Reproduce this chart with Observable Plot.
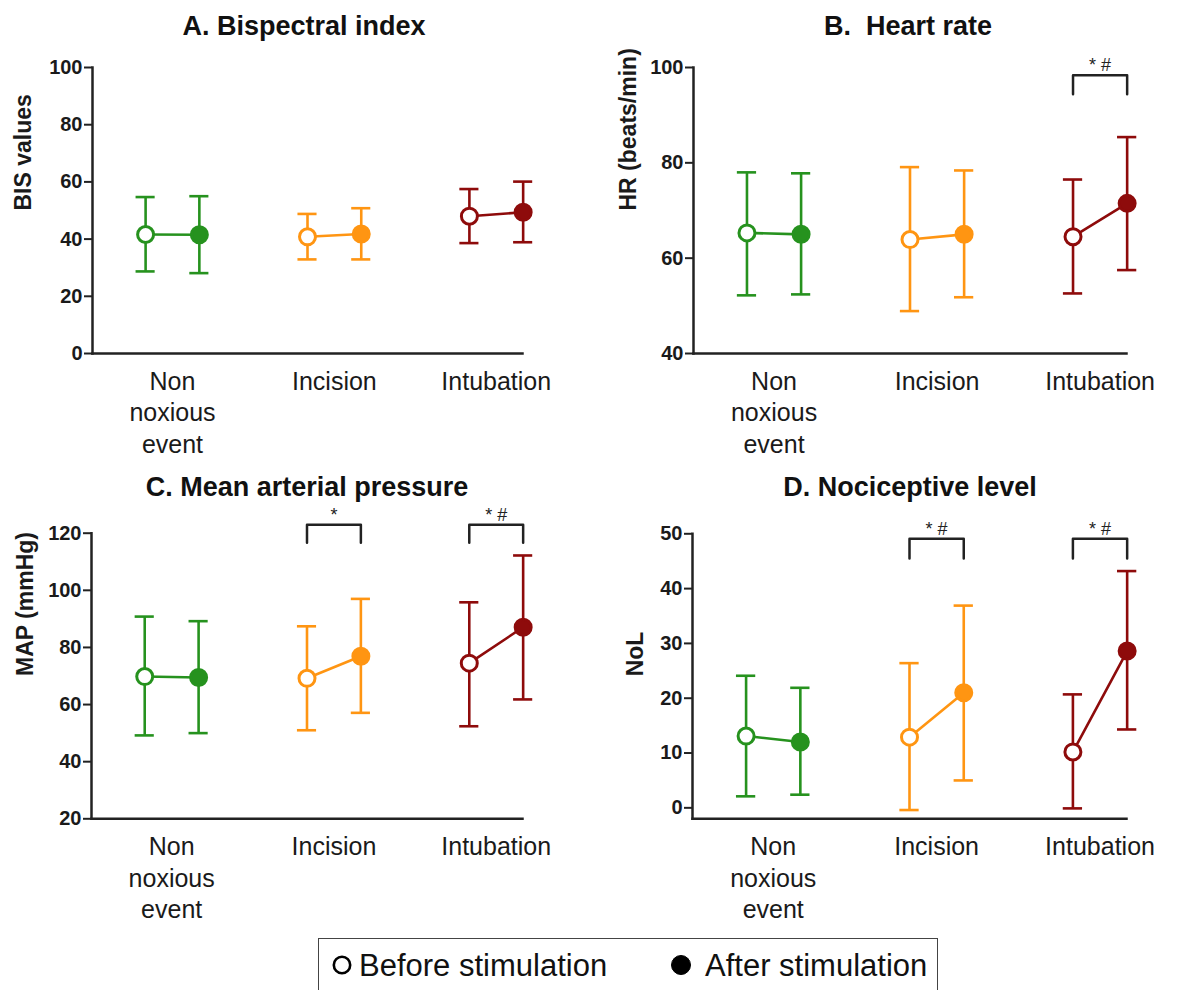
<!DOCTYPE html>
<html><head><meta charset="utf-8">
<script src="https://cdn.jsdelivr.net/npm/d3@7"></script>
<script src="https://cdn.jsdelivr.net/npm/@observablehq/plot@0.6"></script>
<style>
body{margin:0;background:#fff;font-family:"Liberation Sans",Arial,sans-serif;}
#wrap{position:relative;width:1178px;height:990px;overflow:hidden;background:#fff}
.title{position:absolute;font-weight:bold;font-size:27px;line-height:26px;color:#111;text-align:center;width:500px;white-space:pre}
#legend{position:absolute;left:318px;top:938px;width:620px;height:80px;border:1.5px solid #444;box-sizing:border-box}
.ltext{position:absolute;font-size:31px;line-height:32px;color:#111;white-space:pre}
</style></head>
<body><div id="wrap"></div>
<script>
// ---- data ----
const categories = ["Non\nnoxious\nevent", "Incision", "Intubation"];
const phases = ["Before stimulation", "After stimulation"];
const colors = ["#26921e", "#ff9512", "#8e0b0b"];
const titles = ["A. Bispectral index", "B.  Heart rate", "C. Mean arterial pressure", "D. Nociceptive level"];
const yLabels = ["BIS values", "HR (beats/min)", "MAP (mmHg)", "NoL"];

// A. BIS
const bisBefore   = [41.6, 40.8, 48.0];
const bisBeforeHi = [54.7, 48.8, 57.5];
const bisBeforeLo = [28.7, 32.9, 38.6];
const bisAfter    = [41.5, 41.8, 49.4];
const bisAfterHi  = [55.0, 50.8, 60.1];
const bisAfterLo  = [28.1, 32.9, 38.9];
const bisTicks = [0, 20, 40, 60, 80, 100];

// B. HR
const hrBefore   = [65.3, 63.9, 64.5];
const hrBeforeHi = [78.0, 79.1, 76.5];
const hrBeforeLo = [52.2, 48.9, 52.6];
const hrAfter    = [65.0, 65.0, 71.5];
const hrAfterHi  = [77.8, 78.4, 85.4];
const hrAfterLo  = [52.4, 51.8, 57.5];
const hrTicks = [40, 60, 80, 100];
const hrBrackets = [{cat: 2, top: 98.4, leg: 94.4, label: "* #"}];

// C. MAP
const mapBefore   = [69.8, 69.2, 74.5];
const mapBeforeHi = [90.8, 87.4, 95.8];
const mapBeforeLo = [49.2, 51.0, 52.4];
const mapAfter    = [69.5, 76.9, 87.1];
const mapAfterHi  = [89.2, 97.0, 112.2];
const mapAfterLo  = [50.0, 57.1, 61.8];
const mapTicks = [20, 40, 60, 80, 100, 120];
const mapBrackets = [{cat: 1, top: 123, leg: 116.7, label: "*"}, {cat: 2, top: 123, leg: 116.7, label: "* #"}];

// D. NoL
const nolBefore   = [13.1, 12.9, 10.2];
const nolBeforeHi = [24.1, 26.4, 20.7];
const nolBeforeLo = [2.1, -0.4, -0.1];
const nolAfter    = [12.0, 21.0, 28.6];
const nolAfterHi  = [21.9, 36.9, 43.2];
const nolAfterLo  = [2.4, 5.0, 14.3];
const nolTicks = [0, 10, 20, 30, 40, 50];
const nolBrackets = [{cat: 1, top: 49.1, leg: 45.5, label: "* #"}, {cat: 2, top: 49.1, leg: 45.5, label: "* #"}];

// ---- layout ----
const OFF = 0.166, CAP = 0.059;
const xDomain = [-0.494, 2.162];
const wrap = document.getElementById("wrap");

function panel(cfg, before, beforeHi, beforeLo, after, afterHi, afterLo, ticks, brackets) {
  const rows = [];
  categories.forEach((c, i) => {
    rows.push({cat: i, phase: 0, mean: before[i], hi: beforeHi[i], lo: beforeLo[i]});
    rows.push({cat: i, phase: 1, mean: after[i], hi: afterHi[i], lo: afterLo[i]});
  });
  const X = d => d.cat + (d.phase ? OFF : -OFF);
  const col = d => colors[d.cat];
  const bpts = [];
  brackets.forEach((b, k) => {
    bpts.push({k, x: b.cat - OFF, y: b.leg}, {k, x: b.cat - OFF, y: b.top},
              {k, x: b.cat + OFF, y: b.top}, {k, x: b.cat + OFF, y: b.leg});
  });
  const svg = Plot.plot({
    width: cfg.width, height: cfg.height,
    marginLeft: cfg.ml, marginRight: cfg.mr, marginTop: cfg.mt, marginBottom: cfg.mb,
    x: {type: "linear", domain: xDomain, axis: null},
    y: {domain: cfg.yDomain, axis: null},
    style: {fontFamily: "Liberation Sans, Arial, sans-serif", color: "#1a1a1a", background: "transparent", overflow: "visible"},
    marks: [
      Plot.ruleX(rows, {x: X, y1: "lo", y2: "hi", stroke: col, strokeWidth: 2.6}),
      Plot.ruleY(rows, {y: "hi", x1: d => X(d) - CAP, x2: d => X(d) + CAP, stroke: col, strokeWidth: 2.6}),
      Plot.ruleY(rows, {y: "lo", x1: d => X(d) - CAP, x2: d => X(d) + CAP, stroke: col, strokeWidth: 2.6}),
      Plot.line(rows, {x: X, y: "mean", z: "cat", stroke: col, strokeWidth: 2.6}),
      Plot.dot(rows, {x: X, y: "mean", r: 8, fill: d => d.phase ? colors[d.cat] : "white", stroke: col, strokeWidth: 3}),
      Plot.line(bpts, {x: "x", y: "y", z: "k", stroke: "#222", strokeWidth: 2.5}),
      Plot.text(brackets, {x: "cat", y: "top", text: "label", dy: -4, lineAnchor: "bottom", fontSize: 18, fill: "#222"}),
      Plot.frame({anchor: "left", stroke: "#222", strokeWidth: 2.5}),
      Plot.frame({anchor: "bottom", stroke: "#222", strokeWidth: 2.5}),
      Plot.axisY({ticks, tickSize: 8, tickPadding: 2, fontSize: 20, fontWeight: "bold", strokeWidth: 2, stroke: "#222", fill: "#1a1a1a", label: null}),
      Plot.axisX({ticks: [0, 1, 2], tickFormat: i => categories[i], tickSize: 0, tickPadding: 14, fontSize: 25, lineHeight: 1.26, fill: "#1a1a1a", label: null}),
      Plot.text([cfg.label], {frameAnchor: "left", rotate: -90, dx: -cfg.lo, fontSize: 23, fontWeight: "bold", fill: "#1a1a1a"})
    ]
  });
  svg.style.position = "absolute";
  svg.style.left = cfg.left + "px";
  svg.style.top = cfg.top + "px";
  wrap.appendChild(svg);
}

panel({left: 0, top: 40, width: 590, height: 430, ml: 92, mr: 68, mt: 27, mb: 117, yDomain: [0, 100], label: yLabels[0], lo: 69},
  bisBefore, bisBeforeHi, bisBeforeLo, bisAfter, bisAfterHi, bisAfterLo, bisTicks, []);
panel({left: 590, top: 40, width: 588, height: 430, ml: 103, mr: 52, mt: 27, mb: 117, yDomain: [40, 100], label: yLabels[1], lo: 65},
  hrBefore, hrBeforeHi, hrBeforeLo, hrAfter, hrAfterHi, hrAfterLo, hrTicks, hrBrackets);
panel({left: 0, top: 470, width: 590, height: 470, ml: 91, mr: 68, mt: 62.7, mb: 121.7, yDomain: [20, 120], label: yLabels[2], lo: 66},
  mapBefore, mapBeforeHi, mapBeforeLo, mapAfter, mapAfterHi, mapAfterLo, mapTicks, mapBrackets);
panel({left: 590, top: 470, width: 588, height: 470, ml: 102, mr: 52, mt: 63.3, mb: 121.7, yDomain: [-2, 50], label: yLabels[3], lo: 57},
  nolBefore, nolBeforeHi, nolBeforeLo, nolAfter, nolAfterHi, nolAfterLo, nolTicks, nolBrackets);

// titles
[[304, 13], [908, 13], [307, 474], [910, 474]].forEach(([cx, top], i) => {
  const d = document.createElement("div");
  d.className = "title";
  d.style.left = (cx - 250) + "px";
  d.style.top = top + "px";
  d.textContent = titles[i];
  wrap.appendChild(d);
});

// legend
const leg = document.createElement("div");
leg.id = "legend";
wrap.appendChild(leg);
const ns = "http://www.w3.org/2000/svg";
const ls = document.createElementNS(ns, "svg");
ls.setAttribute("width", 1178); ls.setAttribute("height", 990);
ls.style.position = "absolute"; ls.style.left = "0"; ls.style.top = "0";
[[342, false], [681, true]].forEach(([cx, filled]) => {
  const c = document.createElementNS(ns, "circle");
  c.setAttribute("cx", cx); c.setAttribute("cy", 965); c.setAttribute("r", filled ? 9.5 : 8.2);
  c.setAttribute("fill", filled ? "#000" : "#fff");
  c.setAttribute("stroke", "#000"); c.setAttribute("stroke-width", filled ? 1 : 2.6);
  ls.appendChild(c);
});
wrap.appendChild(ls);
[[359, phases[0]], [705, phases[1]]].forEach(([x, t]) => {
  const s = document.createElement("div");
  s.className = "ltext";
  s.style.left = x + "px"; s.style.top = "950px";
  s.textContent = t;
  wrap.appendChild(s);
});
</script></body></html>
